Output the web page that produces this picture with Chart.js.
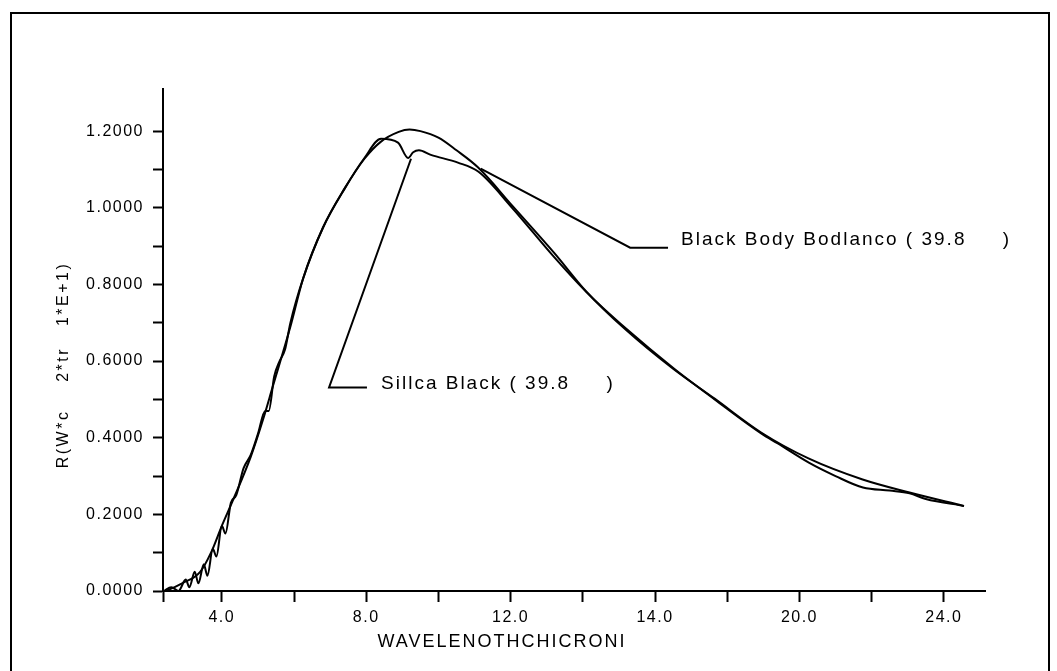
<!DOCTYPE html>
<html>
<head>
<meta charset="utf-8">
<script src="https://cdn.jsdelivr.net/npm/chart.js@4.4.1/dist/chart.umd.min.js"></script>
<style>
  body { margin: 0; background: #fff; }
  #frame { position: absolute; left: 10px; top: 12px; width: 1036px; height: 700px; border: 2px solid #000; }
  #wrap { position: absolute; left: 0; top: 0; width: 1057px; height: 671px; }
</style>
</head>
<body>
<div id="frame"></div>
<div id="wrap"><canvas id="myChart"></canvas></div>
<script>
// values
const bbX = [2.45, 2.9, 3.4, 3.7, 4.0, 4.3, 4.8, 5.15, 5.4, 5.9, 6.25, 6.8, 7.4, 7.95, 8.4, 8.9, 9.2, 9.5, 10.0, 10.5, 11.1, 12.05, 13.2, 14.1, 15.2, 16.5, 17.65, 18.95, 20.25, 21.75, 23.05, 24.55];
const bbY = [0.0, 0.02, 0.05, 0.1, 0.17, 0.235, 0.35, 0.45, 0.53, 0.69, 0.815, 0.948, 1.05, 1.128, 1.172, 1.198, 1.204, 1.2, 1.183, 1.15, 1.105, 1.005, 0.883, 0.781, 0.681, 0.58, 0.502, 0.413, 0.346, 0.291, 0.257, 0.222];

const silX = [2.4, 2.6, 2.8, 3.0, 3.1, 3.25, 3.35, 3.5, 3.6, 3.75, 3.85, 4.0, 4.1, 4.25, 4.4, 4.6, 4.8, 5.0, 5.2, 5.3, 5.45, 5.6, 5.75, 5.9, 6.25, 6.8, 7.4, 7.95, 8.41, 8.88, 9.16, 9.3, 9.46, 9.79, 10.54, 11.11, 12.04, 13.17, 14.1, 15.22, 16.53, 17.65, 18.96, 19.4, 20.26, 21.0, 21.76, 22.5, 23.05, 23.5, 24.56];
const silY = [0.0, 0.01, 0.0, 0.03, 0.01, 0.05, 0.02, 0.07, 0.04, 0.11, 0.09, 0.17, 0.15, 0.23, 0.25, 0.32, 0.355, 0.41, 0.47, 0.47, 0.56, 0.6, 0.63, 0.7, 0.815, 0.948, 1.05, 1.13, 1.18, 1.17, 1.13, 1.145, 1.15, 1.138, 1.118, 1.094, 1.0, 0.875, 0.78, 0.683, 0.58, 0.5, 0.41, 0.385, 0.335, 0.3, 0.27, 0.262, 0.255, 0.24, 0.222];

// leader lines for the two labels
const bbLeaderX = [11.17, 15.31, 16.36];
const bbLeaderY = [1.102, 0.896, 0.896];
const silLeaderX = [9.24, 6.97, 8.02];
const silLeaderY = [1.128, 0.531, 0.531];

const xTickValues = [2.37, 4, 6, 8, 10, 12, 14, 16, 18, 20, 22, 24];
const xTickLabels = {4: '4.0', 8: '8.0', 12: '12.0', 16: '14.0', 20: '20.0', 24: '24.0'};
const yTickValues = [0, 0.1, 0.2, 0.3, 0.4, 0.5, 0.6, 0.7, 0.8, 0.9, 1.0, 1.1, 1.2];

const xMin = 2.37, xMax = 25.14, yMin = 0, yMax = 1.31;

function pts(xs, ys) {
  return xs.map((x, i) => ({x: x, y: ys[i]}));
}

const lineStyle = {borderColor: '#000', borderWidth: 2, pointRadius: 0, fill: false};

// texts that sit in the plot: labels and axis titles
const textPlugin = {
  id: 'texts',
  beforeDraw(chart) {
    chart.ctx.letterSpacing = '1.5px';
  },
  afterDraw(chart) {
    const ctx = chart.ctx;
    const xs = chart.scales.x, ys = chart.scales.y;
    ctx.save();
    ctx.fillStyle = '#000';
    ctx.textBaseline = 'middle';
    ctx.textAlign = 'left';
    ctx.font = '19px "Liberation Sans", Arial, sans-serif';
    ctx.letterSpacing = '2px';
    ctx.fillText('Black Body Bodlanco ( 39.8     )', xs.getPixelForValue(16.72), ys.getPixelForValue(0.917));
    ctx.fillText('Sillca Black ( 39.8     )', xs.getPixelForValue(8.41), ys.getPixelForValue(0.541));

    // x axis title
    ctx.font = '18px "Liberation Sans", Arial, sans-serif';
    ctx.letterSpacing = '2px';
    ctx.textAlign = 'center';
    ctx.fillText('WAVELENOTHCHICRONI', xs.getPixelForValue(11.76), 642);

    // y axis title
    ctx.translate(64, (ys.top + ys.bottom) / 2 + 25);
    ctx.rotate(-Math.PI / 2);
    ctx.font = '16px "Liberation Sans", Arial, sans-serif';
    ctx.letterSpacing = '2.5px';
    ctx.fillText('R(W*c    2*tr   1*E+1)', 0, 0);
    ctx.restore();
  }
};

const ctx = document.getElementById('myChart').getContext('2d');
new Chart(ctx, {
  type: 'line',
  data: {
    datasets: [
      Object.assign({label: 'Black Body', data: pts(bbX, bbY), cubicInterpolationMode: 'monotone'}, lineStyle),
      Object.assign({label: 'Sillca Black', data: pts(silX, silY), cubicInterpolationMode: 'monotone'}, lineStyle),
      Object.assign({label: 'bb leader', data: pts(bbLeaderX, bbLeaderY), tension: 0}, lineStyle),
      Object.assign({label: 'sil leader', data: pts(silLeaderX, silLeaderY), tension: 0}, lineStyle)
    ]
  },
  options: {
    responsive: true,
    maintainAspectRatio: false,
    animation: false,
    layout: { padding: { top: 89, right: 72, left: 0, bottom: 0 } },
    plugins: { legend: { display: false }, tooltip: { enabled: false } },
    scales: {
      x: {
        type: 'linear',
        min: xMin,
        max: xMax,
        afterFit(scale) { scale.height = 80; },
        afterBuildTicks(scale) { scale.ticks = xTickValues.map(v => ({value: v})); },
        grid: { drawOnChartArea: false, drawTicks: true, tickLength: 11, tickWidth: 2, tickColor: '#000' },
        border: { color: '#000', width: 2 },
        ticks: {
          color: '#000',
          padding: 6,
          maxRotation: 0,
          autoSkip: false,
          font: { family: '"Liberation Sans", Arial, sans-serif', size: 16 },
          callback: v => xTickLabels[v] || ''
        }
      },
      y: {
        type: 'linear',
        min: yMin,
        max: yMax,
        afterFit(scale) { scale.width = 163; },
        afterBuildTicks(scale) { scale.ticks = yTickValues.map(v => ({value: v})); },
        grid: { drawOnChartArea: false, drawTicks: true, tickLength: 10, tickWidth: 2, tickColor: '#000' },
        border: { color: '#000', width: 2 },
        ticks: {
          color: '#000',
          padding: 9,
          autoSkip: false,
          font: { family: '"Liberation Sans", Arial, sans-serif', size: 16 },
          callback: (v, i) => (Math.round(v * 10) % 2 === 0) ? v.toFixed(4) : ''
        }
      }
    }
  },
  plugins: [textPlugin]
});
</script>
</body>
</html>
